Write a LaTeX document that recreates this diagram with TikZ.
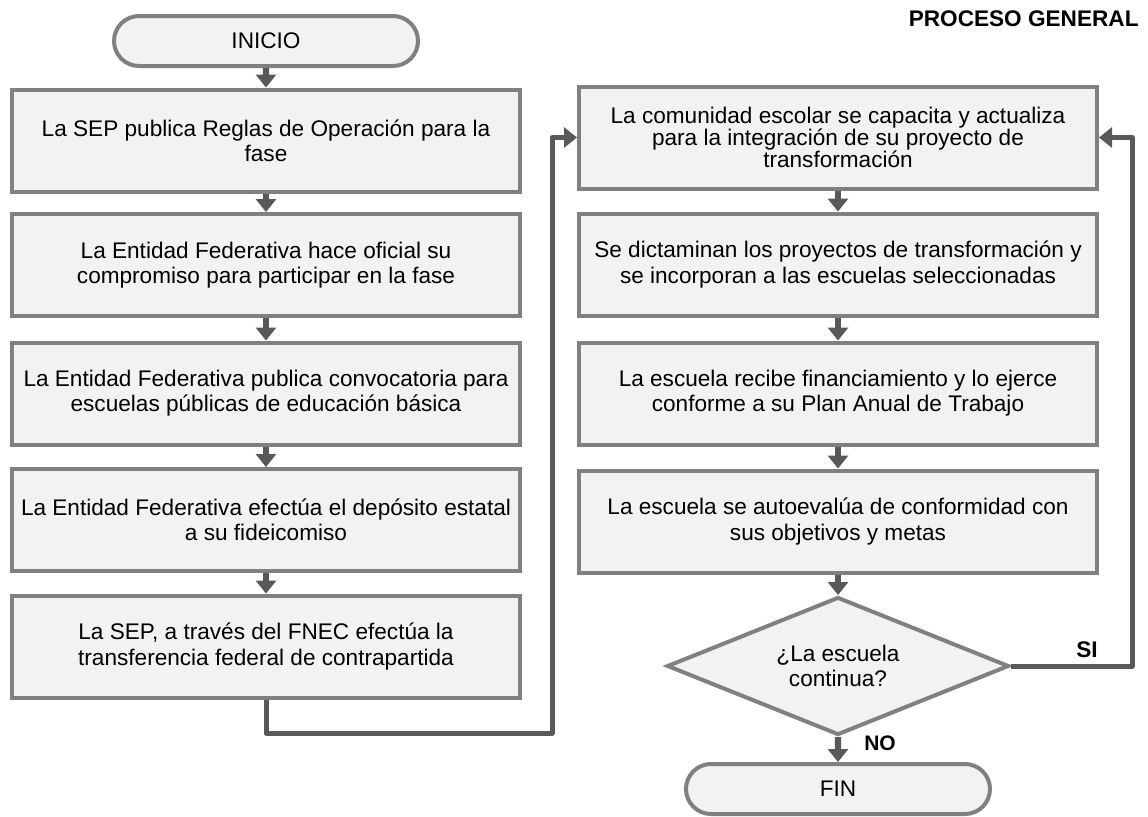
\documentclass[tikz,border=0pt]{standalone}
\usepackage{fontspec}
\setmainfont{Liberation Sans}
\usepackage{tikz}
\usepackage{xcolor}
\usetikzlibrary{arrows.meta,shapes,positioning}

\definecolor{relleno}{HTML}{F2F2F2}
\definecolor{borde}{HTML}{808080}
\definecolor{flecha}{HTML}{595959}

\begin{document}
\begin{tikzpicture}[x=0.5pt,y=-0.5pt,>={Triangle[length=6.5pt,width=10pt]},
paso/.style={draw=borde,fill=relleno,line width=2pt,align=center,inner sep=0pt},
izq/.style={paso,minimum width=254pt,minimum height=51pt},
der/.style={paso,minimum width=259pt,minimum height=51pt},
terminal/.style={paso,rounded rectangle,minimum width=152pt,minimum height=25pt},
flujo/.style={->,draw=flecha,line width=3.2pt},
linea/.style={->,draw=flecha,line width=2.5pt,line join=round},
font=\fontsize{11.3}{12.6}\selectfont]
\useasboundingbox (0,0) rectangle (1148,816);
\node[anchor=east,inner sep=0pt,font=\fontsize{11.3}{12.6}\selectfont\bfseries] (titulo) at (1139,19) {PROCESO GENERAL};
\node[terminal] (inicio) at (266,41) {INICIO};
% columna izquierda
\node[izq] (l1) at (266,140.5) {La SEP publica Reglas de Operación para la\\fase};
\node[izq] (l2) at (266,265) {La Entidad Federativa hace oficial su\\compromiso para participar en la fase};
\node[izq] (l3) at (266,393.5) {La Entidad Federativa publica convocatoria para\\escuelas públicas de educación básica};
\node[izq] (l4) at (266,520) {La Entidad Federativa efectúa el depósito estatal\\a su fideicomiso};
\node[izq] (l5) at (266,646.5) {La SEP, a través del FNEC efectúa la\\transferencia federal de contrapartida};
% columna derecha
\node[der,font=\fontsize{11.3}{10.8}\selectfont] (r1) at (838,137.5) {La comunidad escolar se capacita y actualiza\\para la integración de su proyecto de\\transformación};
\node[der] (r2) at (838,264.5) {Se dictaminan los proyectos de transformación y\\se incorporan a las escuelas seleccionadas};
\node[der] (r3) at (838,393.5) {La escuela recibe financiamiento y lo ejerce\\conforme a su Plan Anual de Trabajo};
\node[der] (r4) at (838,521.5) {La escuela se autoevalúa de conformidad con\\sus objetivos y metas};
\node[paso,diamond,aspect=2.48,minimum width=171pt,minimum height=69pt] (pregunta) at (838,666) {¿La escuela\\continua?};
\node[terminal] (fin) at (838,789) {FIN};

\foreach \a/\b in {inicio/l1,l1/l2,l2/l3,l3/l4,l4/l5,r1/r2,r2/r3,r3/r4,r4/pregunta,pregunta/fin}
  \draw[flujo] (\a) -- (\b);

\coordinate (codo1) at (552,733);
\coordinate (codo2) at (1132,666);
\draw[linea] (l5.south) |- (codo1) |- (r1.west);
\draw[linea] (pregunta.east) -- (codo2) |- (r1.east);
\node[font=\fontsize{11.3}{12.6}\selectfont\bfseries] (si) at (1087,650) {SI};
\node[font=\fontsize{10.5}{12}\selectfont\bfseries] (no) at (880,743) {NO};
\end{tikzpicture}
\end{document}
